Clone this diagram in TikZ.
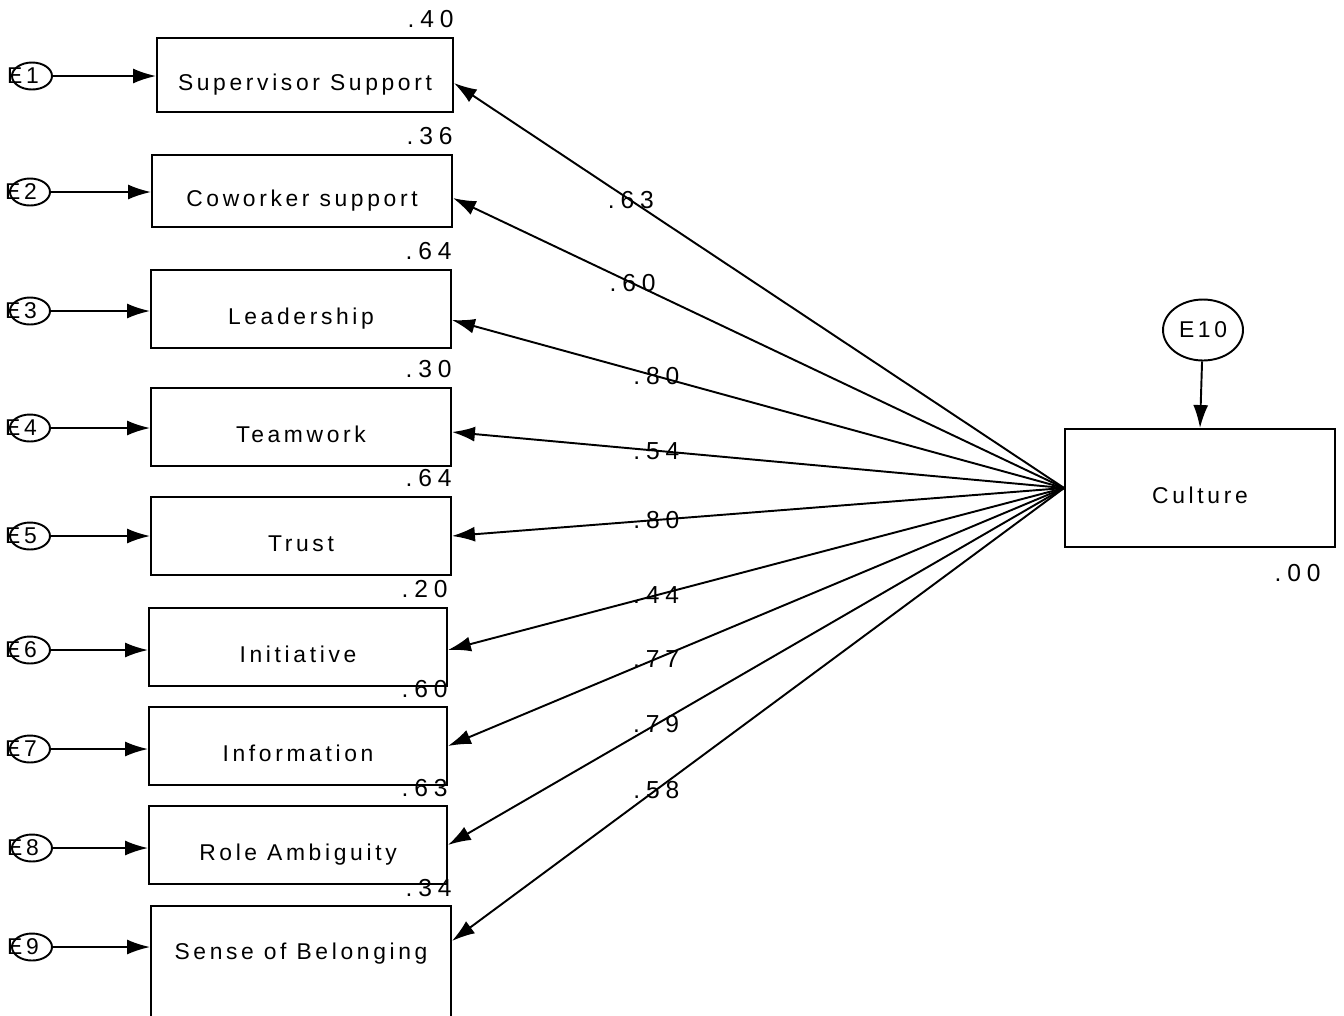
\documentclass[tikz,border=0pt]{standalone}
\usepackage{fontspec}
\setmainfont{Liberation Sans}[LetterSpace=16]
\newfontfamily\numfont{Liberation Sans}[LetterSpace=24]
\usetikzlibrary{shapes.geometric,arrows.meta}

\begin{document}
\begin{tikzpicture}[x=0.02cm, y=-0.02cm,
    box/.style={rectangle, draw, line width=1.1pt, minimum width=6cm, minimum height=1.55cm,
                inner sep=0pt, text height=0.61cm, text depth=0pt, font=\fontsize{13}{15}\selectfont},
    err/.style={ellipse, draw, line width=1.1pt, minimum width=0.8cm, minimum height=0.54cm,
                inner sep=0pt, font=\fontsize{13}{15}\selectfont},
    arrow/.style={-{Latex[length=0.46cm,width=0.3cm]}, line width=1.1pt},
    num/.style={inner sep=0pt, font=\numfont\fontsize{14}{16}\selectfont},
    coef/.style={inner sep=0pt, font=\numfont\fontsize{14}{16}\selectfont}
  ]
    \useasboundingbox (0,0) rectangle (1344,1015);

    \node[box, minimum width=5.92cm, minimum height=1.48cm, label={[num, anchor=south east, yshift=0.18cm]north east:.40}] (b1) at (305,75) {Supervisor Support};
    \node[box, minimum height=1.44cm, label={[num, anchor=south east, yshift=0.18cm]north east:.36}] (b2) at (302,191) {Coworker support};
    \node[box, label={[num, anchor=south east, yshift=0.18cm]north east:.64}] (b3) at (301,309) {Leadership};
    \node[box, label={[num, anchor=south east, yshift=0.18cm]north east:.30}] (b4) at (301,427) {Teamwork};
    \node[box, label={[num, anchor=south east, yshift=0.18cm]north east:.64}] (b5) at (301,536) {Trust};
    \node[box, minimum width=5.96cm, label={[num, anchor=south east, yshift=0.18cm]north east:.20}] (b6) at (298,647) {Initiative};
    \node[box, minimum width=5.96cm, label={[num, anchor=south east, yshift=0.16cm]north east:.60}] (b7) at (298,746) {Information};
    \node[box, minimum width=5.96cm, label={[num, anchor=south east, yshift=0.16cm]north east:.63}] (b8) at (298,845) {Role Ambiguity};
    \node[box, anchor=north, minimum height=2.4cm, text height=0.35cm, text depth=0.59cm,
          label={[num, anchor=south east, yshift=0.16cm]north east:.34}] (b9) at (301,905) {Sense of Belonging};

    \node[err] (e1) at (32,76)  {\makebox[0pt]{E1\hspace{0.36cm}}};
    \node[err] (e2) at (30,192) {\makebox[0pt]{E2\hspace{0.36cm}}};
    \node[err] (e3) at (30,311) {\makebox[0pt]{E3\hspace{0.36cm}}};
    \node[err] (e4) at (30,428) {\makebox[0pt]{E4\hspace{0.36cm}}};
    \node[err] (e5) at (30,536) {\makebox[0pt]{E5\hspace{0.36cm}}};
    \node[err] (e6) at (30,650) {\makebox[0pt]{E6\hspace{0.36cm}}};
    \node[err] (e7) at (30,749) {\makebox[0pt]{E7\hspace{0.36cm}}};
    \node[err] (e8) at (32,848) {\makebox[0pt]{E8\hspace{0.36cm}}};
    \node[err] (e9) at (32,947) {\makebox[0pt]{E9\hspace{0.36cm}}};

    \node[box, minimum width=5.4cm, minimum height=2.36cm,
          label={[num, anchor=north east, xshift=-0.3cm, yshift=-0.32cm]south east:.00}] (cult) at (1200,488) {Culture};
    \node[err, minimum width=1.6cm, minimum height=1.22cm] (e10) at (1203,330) {E10};

    \draw[arrow] (e1) -- (e1 -| b1.west);
    \draw[arrow] (e2) -- (e2 -| b2.west);
    \draw[arrow] (e3) -- (e3 -| b3.west);
    \draw[arrow] (e4) -- (e4 -| b4.west);
    \draw[arrow] (e5) -- (e5 -| b5.west);
    \draw[arrow] (e6) -- (e6 -| b6.west);
    \draw[arrow] (e7) -- (e7 -| b7.west);
    \draw[arrow] (e8) -- (e8 -| b8.west);
    \draw[arrow] (e9) -- (e9 -| b9.west);
    \draw[arrow] (e10) -- (cult.north);

    \draw[arrow] (cult.west) -- node[coef, pos=0.71]  {.63} ([yshift=-0.16cm]b1.east);
    \draw[arrow] (cult.west) -- node[coef, pos=0.706] {.60} ([yshift=-0.14cm]b2.east);
    \draw[arrow] (cult.west) -- node[coef, pos=0.666] {.80} ([yshift=-0.22cm]b3.east);
    \draw[arrow] (cult.west) -- node[coef, pos=0.666] {.54} ([yshift=-0.1cm]b4.east);
    \draw[arrow] (cult.west) -- node[coef, pos=0.666] {.80} (b5.east);
    \draw[arrow] (cult.west) -- node[coef, pos=0.662] {.44} ([yshift=-0.06cm]b6.east);
    \draw[arrow] (cult.west) -- node[coef, pos=0.662] {.77} (b7.east);
    \draw[arrow] (cult.west) -- node[coef, pos=0.662] {.79} (b8.east);
    \draw[arrow] (cult.west) -- node[coef, pos=0.666] {.58} ([yshift=0.5cm]b9.east);
  \end{tikzpicture}
\end{document}
